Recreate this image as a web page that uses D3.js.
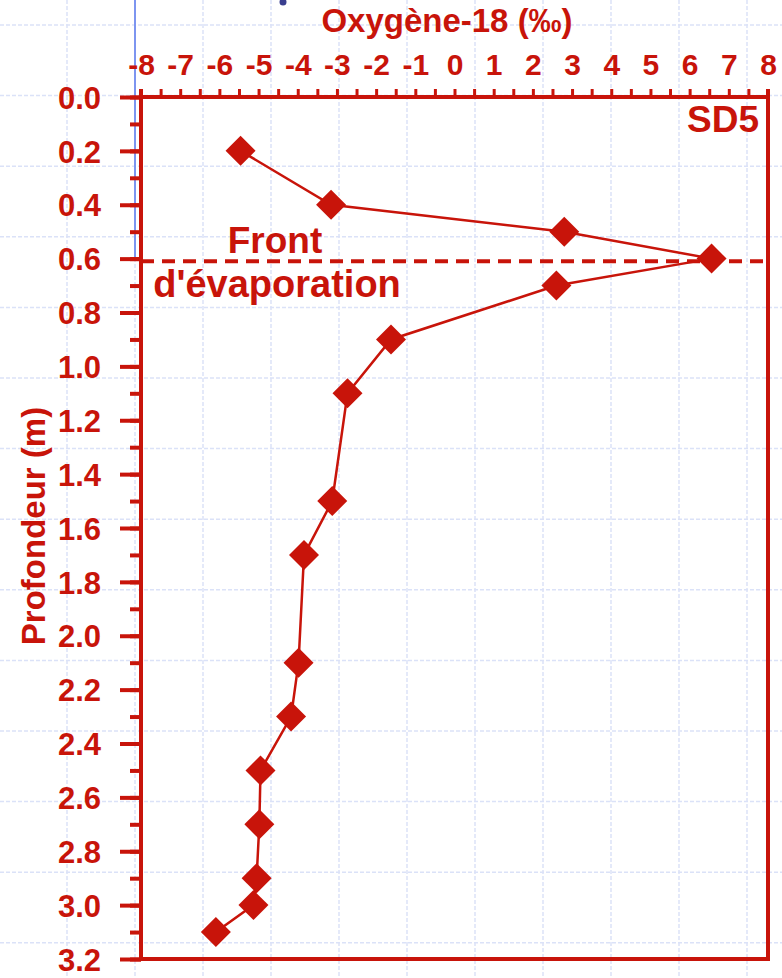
<!DOCTYPE html>
<html><head><meta charset="utf-8">
<script src="https://cdn.jsdelivr.net/npm/d3@7"></script>
<style>
html,body{margin:0;padding:0;background:#fff;}
svg{display:block;}
text{font-family:Arial,"Liberation Sans",sans-serif;font-weight:bold;}
</style></head>
<body>
<svg id="c" width="782" height="978"></svg>
<script>
// Data
const depths = [0.2, 0.4, 0.5, 0.6, 0.7, 0.9, 1.1, 1.5, 1.7, 2.1, 2.3, 2.5, 2.7, 2.9, 3.0, 3.1];
const o18    = [-5.46, -3.15, 2.8, 6.56, 2.6, -1.62, -2.73, -3.12, -3.84, -3.98, -4.17, -4.95, -4.98, -5.05, -5.13, -6.09];
const xTicksMajor = d3.range(-8, 9, 1);
const xTicksMinor = d3.range(-8, 8.001, 0.5);
const yTicksMajor = d3.range(0, 3.2001, 0.2).map(v => +v.toFixed(1));
const yTicksMinor = d3.range(0, 3.2001, 0.1).map(v => +v.toFixed(1));
const frontDepth = 0.61;
const xTitle = "Oxygène-18 (‰)";
const yTitle = "Profondeur (m)";
const siteLabel = "SD5";
const frontLabel = ["Front", "d'évaporation"];

const RED = "#c8140a";
const svg = d3.select("#c");

// background graph-paper grid
const bg = svg.append("g");
d3.range(-1, 782, 68).forEach(gx => bg.append("line").attr("x1", gx).attr("x2", gx).attr("y1", 0).attr("y2", 978));
d3.range(25, 978, 70.6).forEach(gy => bg.append("line").attr("x1", 0).attr("x2", 782).attr("y1", gy).attr("y2", gy));
bg.selectAll("line").attr("stroke", "#dbe2f8").attr("stroke-width", 1.5).attr("stroke-dasharray", "4,2");

// stray blue line & dot
svg.append("line").attr("x1", 135).attr("x2", 135).attr("y1", 0).attr("y2", 257)
  .attr("stroke", "#7d95f0").attr("stroke-width", 2);
svg.append("circle").attr("cx", 283).attr("cy", 2).attr("r", 3.5).attr("fill", "#3a3f8f");

const x = d3.scaleLinear().domain([-8, 8]).range([141, 768]);
const y = d3.scaleLinear().domain([0, 3.2]).range([97, 959]);

const FONT = "Arial, 'Liberation Sans', sans-serif";

// Top axis minor ticks
const gxMinor = svg.append("g").attr("transform", `translate(0,${y(0)})`)
  .call(d3.axisTop(x).tickValues(xTicksMinor).tickSize(8).tickFormat(""));
gxMinor.select(".domain").remove();
gxMinor.selectAll("line").attr("stroke", RED).attr("stroke-width", 3);

const gxMajor = svg.append("g").attr("transform", `translate(0,${y(0)})`)
  .call(d3.axisTop(x).tickValues(xTicksMajor).tickSize(0).tickPadding(22).tickFormat(d => String(d)));
gxMajor.select(".domain").remove();
gxMajor.selectAll("text").attr("fill", RED).style("font-size", "30px")
  .style("font-family", FONT).style("font-weight", "bold");

// Left axis
const gyMinor = svg.append("g").attr("transform", `translate(${x(-8)},0)`)
  .call(d3.axisLeft(y).tickValues(yTicksMinor).tickSize(11).tickFormat(""));
gyMinor.select(".domain").remove();
gyMinor.selectAll("line").attr("stroke", RED).attr("stroke-width", 4);

const gyMajor = svg.append("g").attr("transform", `translate(${x(-8)},0)`)
  .call(d3.axisLeft(y).tickValues(yTicksMajor).tickSize(21).tickPadding(19).tickFormat(d3.format(".1f")));
gyMajor.select(".domain").remove();
gyMajor.selectAll("line").attr("stroke", RED).attr("stroke-width", 4);
gyMajor.selectAll("text").attr("fill", RED).attr("dy", "0.36em").style("font-size", "31px")
  .style("font-family", FONT).style("font-weight", "bold");

// Frame
svg.append("rect").attr("x", x(-8)).attr("y", y(0)).attr("width", x(8) - x(-8)).attr("height", y(3.2) - y(0))
  .attr("fill", "none").attr("stroke", RED).attr("stroke-width", 4);
svg.append("line").attr("x1", x(-8)).attr("x2", x(-8)).attr("y1", y(0) - 8).attr("y2", y(0)).attr("stroke", RED).attr("stroke-width", 4);
svg.append("line").attr("x1", x(8)).attr("x2", x(8)).attr("y1", y(0) - 8).attr("y2", y(0)).attr("stroke", RED).attr("stroke-width", 4);

// Front line
svg.append("line").attr("x1", x(-8)).attr("x2", x(8)).attr("y1", y(frontDepth)).attr("y2", y(frontDepth))
  .attr("stroke", RED).attr("stroke-width", 4).attr("stroke-dasharray", "13,8");

// Data line
const pts = depths.map((d, i) => [o18[i], d]);
svg.append("path").datum(pts)
  .attr("d", d3.line().x(p => x(p[0])).y(p => y(p[1])))
  .attr("fill", "none").attr("stroke", RED).attr("stroke-width", 2.5);

svg.append("g").selectAll("path").data(pts).join("path")
  .attr("transform", p => `translate(${x(p[0])},${y(p[1])}) rotate(45)`)
  .attr("d", d3.symbol(d3.symbolSquare, 450))
  .attr("fill", RED);

// Titles
svg.append("text").attr("x", 447).attr("y", 32).attr("text-anchor", "middle")
  .attr("fill", RED).style("font-size", "33px").text(xTitle);
svg.append("text").attr("transform", "translate(45,526) rotate(-90)").attr("text-anchor", "middle")
  .attr("fill", RED).style("font-size", "33px").text(yTitle);
svg.append("text").attr("x", 759).attr("y", 132).attr("text-anchor", "end")
  .attr("fill", RED).style("font-size", "37px").text(siteLabel);
svg.append("text").attr("x", 275).attr("y", 253).attr("text-anchor", "middle")
  .attr("fill", RED).style("font-size", "37px").text(frontLabel[0]);
svg.append("text").attr("x", 277).attr("y", 297).attr("text-anchor", "middle")
  .attr("fill", RED).style("font-size", "38px").text(frontLabel[1]);
</script>
</body></html>
